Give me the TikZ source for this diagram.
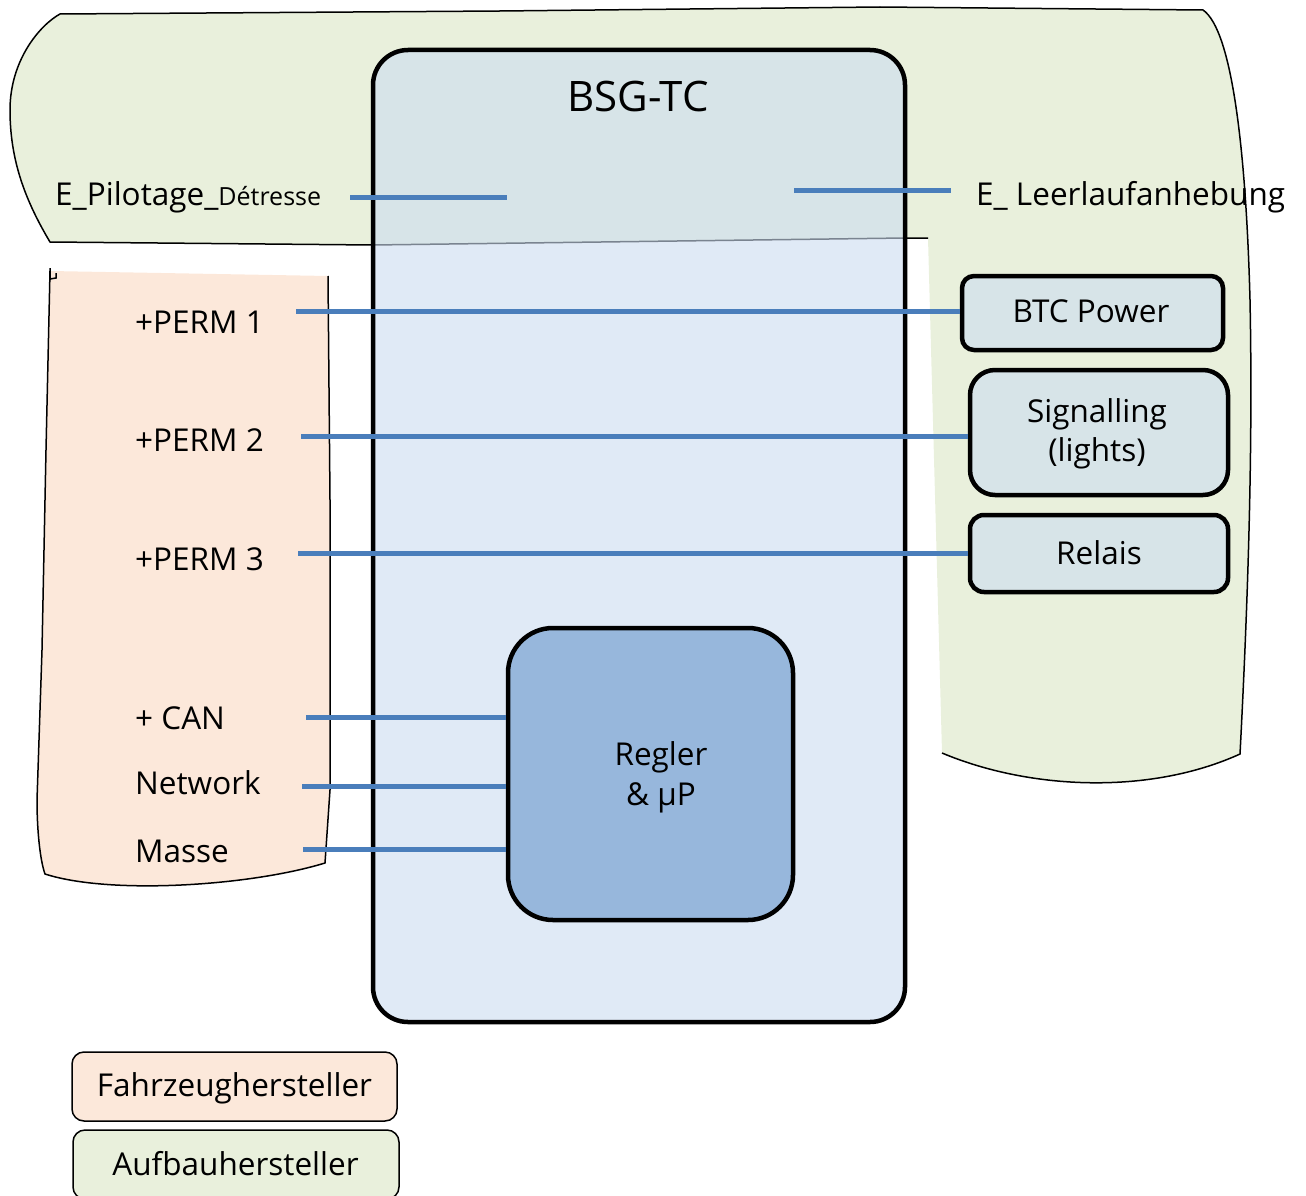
\documentclass[tikz,border=0pt]{standalone}
\usepackage{fontspec}
\setmainfont{Open Sans}
\definecolor{bodygreen}{RGB}{233,240,220}
\definecolor{oempeach}{RGB}{252,232,218}
\definecolor{ecublue}{RGB}{204,220,240}
\definecolor{ctrlblue}{RGB}{151,183,220}
\definecolor{wireblue}{RGB}{74,126,187}
\tikzset{
  txt/.style={inner sep=0pt, anchor=base west, font=\fontsize{31.5}{39}\selectfont},
  ctxt/.style={inner sep=0pt, anchor=base, font=\fontsize{31.5}{39}\selectfont, align=center},
  region/.style={draw=black, line width=1.5pt},
  unitbox/.style={draw=black, line width=4.5pt, fill=ecublue, fill opacity=0.6, text opacity=1, inner sep=0pt},
  legendbox/.style={draw=black, line width=1.5pt, rounded corners=12pt, inner sep=0pt,
    minimum width=325pt, minimum height=69pt},
  wire/.style={draw=wireblue, line width=5pt}
}
\begin{document}
\begin{tikzpicture}[x=1pt,y=-1pt]
\useasboundingbox (0,0) rectangle (1306,1196);

% body builder area (filled; the inner left edge is left unstroked)
\path[region, fill=bodygreen] (928,238) -- (905,238) -- (373,245) -- (50,242)
  .. controls (25,200) and (10,160) .. (10,110)
  .. controls (10,60) and (40,25) .. (60,14)
  -- (500,11) -- (880,7) -- (1203,10)
  .. controls (1232,30) and (1246,150) .. (1250,300)
  .. controls (1253,450) and (1248,600) .. (1240,754)
  .. controls (1150,795) and (1030,790) .. (942,753);

% vehicle manufacturer area (top edge unstroked)
\path[region, fill=oempeach] (328,276) -- (330,500) -- (330,790) -- (325,863)
  .. controls (250,886) and (110,895) .. (45,874)
  .. controls (40,860) and (37,830) .. (37,800)
  -- (42,650) -- (46,450) -- (50,271);
\draw[line width=1.5pt] (50,268) -- (50,280) (50,279) -- (56,278) -- (56,273);

% control unit
\node[unitbox, rounded corners=35pt, minimum width=532pt, minimum height=972pt] (bsg) at (639,536) {};
\node[inner sep=0pt, anchor=base, font=\fontsize{42}{50}\selectfont] (bsgtitle) at (638,112) {BSG-TC};

% body builder interfaces
\node[unitbox, rounded corners=12pt, minimum width=261pt, minimum height=74pt] (btc) at (1092.5,313) {};
\node[ctxt] (btctxt) at (1091,322) {BTC Power};
\node[unitbox, rounded corners=25pt, minimum width=258pt, minimum height=125pt] (sig) at (1099,432.5) {};
\node[ctxt] (sigtxt) at (1097,422) {Signalling};
\node[ctxt] (lighttxt) at (1097,461) {(lights)};
\node[unitbox, rounded corners=14pt, minimum width=258pt, minimum height=77pt] (rel) at (1099,553.5) {};
\node[ctxt] (reltxt) at (1099,564) {Relais};

% controller
\node[draw=black, line width=4.5pt, fill=ctrlblue, rounded corners=45pt, minimum width=285pt, minimum height=292pt, inner sep=0pt] (reg) at (650.5,774) {};
\node[ctxt] (regtxt) at (661,765) {Regler};
\node[ctxt] (uptxt) at (661,805) {\& µP};

% signal names
\node[txt] (pil) at (55,205) {E\_Pilotage\_{\fontsize{25}{30}\selectfont Détresse}};
\node[txt] (leer) at (976,205) {E\_ Leerlaufanhebung};
\node[txt] (perm1) at (135,333) {+PERM 1};
\node[txt] (perm2) at (135,451) {+PERM 2};
\node[txt] (perm3) at (135,570) {+PERM 3};
\node[txt] (can) at (135,729) {+ CAN};
\node[txt] (net) at (135,794) {Network};
\node[txt] (mas) at (135,862) {Masse};

% wires
\coordinate (wPil) at (350,197);
\coordinate (wPilEnd) at (507,197);
\coordinate (wLeer) at (794,190);
\coordinate (wLeerEnd) at (951,190);
\coordinate (wP1) at (296,311);
\coordinate (wP2) at (301,436);
\coordinate (wP3) at (298,553);
\coordinate (wCan) at (306,717);
\coordinate (wNet) at (302,786);
\coordinate (wMas) at (303,849);
\draw[wire] (wPil) -- (wPilEnd);
\draw[wire] (wLeer) -- (wLeerEnd);
\draw[wire] (wP1) -- (wP1 -| btc.west);
\draw[wire] (wP2) -- (wP2 -| sig.west);
\draw[wire] (wP3) -- (wP3 -| rel.west);
\draw[wire] (wCan) -- (wCan -| reg.west);
\draw[wire] (wNet) -- (wNet -| reg.west);
\draw[wire] (wMas) -- (wMas -| reg.west);

% legend
\node[legendbox, fill=oempeach] (lgoem) at (234.5,1086.5) {};
\node[ctxt] (lgoemtxt) at (234.5,1096) {Fahrzeughersteller};
\node[legendbox, fill=bodygreen, minimum width=326pt] (lgbody) at (236,1164.5) {};
\node[ctxt] (lgbodytxt) at (235.5,1175) {Aufbauhersteller};
\end{tikzpicture}
\end{document}
